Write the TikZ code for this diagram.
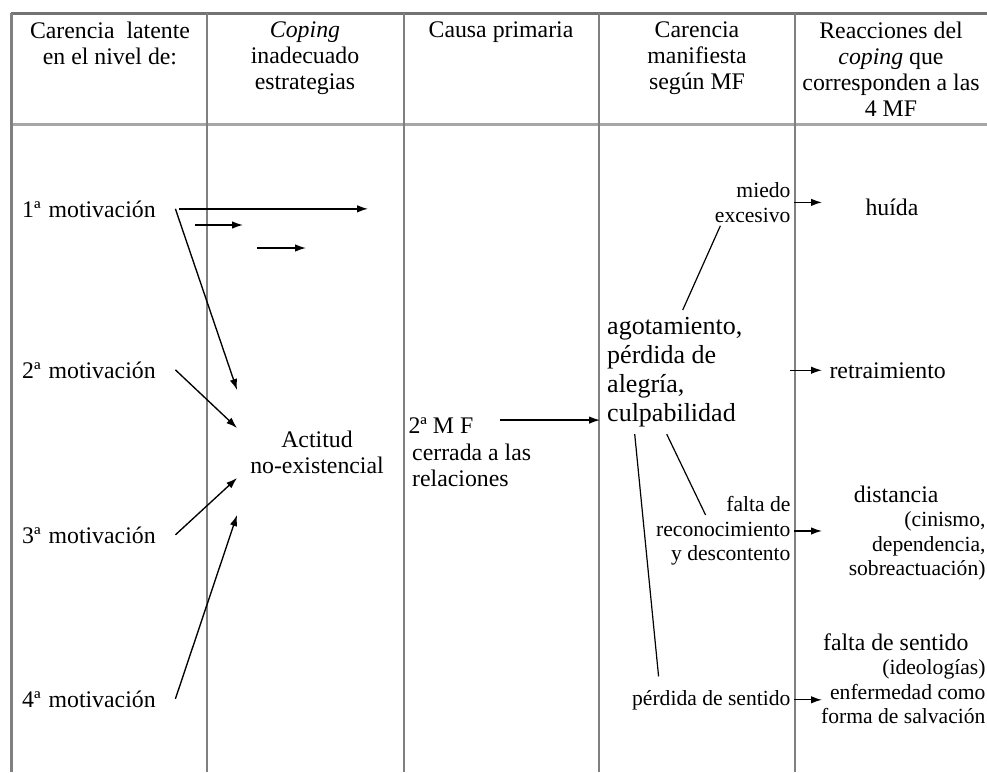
\documentclass[tikz,border=0pt]{standalone}
\usepackage{fontspec}
\setmainfont{Liberation Serif}
\usetikzlibrary{arrows.meta}
\newcommand{\normtxt}{\fontsize{23.8}{26}\selectfont}
\newcommand{\smalltxt}{\fontsize{21.6}{24.5}\selectfont}
\newcommand{\bigtxt}{\fontsize{26}{29}\selectfont}
\begin{document}
\begin{tikzpicture}[x=1pt,y=-1pt,
  rule/.style={black!50,line width=#1},
  arr/.style={-{Latex[length=11pt,width=7.5pt]},line width=1.35pt},
  link/.style={line width=1.2pt},
  head/.style={anchor=north,inner sep=0pt,align=center,font=\normtxt},
  mot/.style={anchor=base west,text width=146pt,align=left,inner xsep=7pt,font=\normtxt},
  lbl/.style={font=\normtxt},
  sublbl/.style={font=\smalltxt,align=right,anchor=north east}]
\useasboundingbox (0,0) rectangle (987,772);
% table
\draw[rule=3pt,black!55] (11,13) -- (987,13);
\draw[rule=3pt,black!35] (11,124) -- (987,124);
\foreach \x/\w in {11/3pt,207/1.5pt,404/2.5pt,599/1.5pt,795/2.5pt}
  \draw[rule=\w] (\x,13) -- (\x,772);
% header
\node[head] (h1) at (110,22) {Carencia\ \ latente\\en el nivel de:};
\node[head] (h2) at (305,22) {\textit{Coping}\\inadecuado\\estrategias};
\node[head] (h3) at (501,22) {Causa primaria};
\node[head] (h4) at (697,22) {Carencia\\manifiesta\\según MF};
\node[head] (h5) at (891,22) {Reacciones del\\\textit{coping} que\\corresponden a las\\4 MF};
% motivaciones
\node[mot] (m1) at (15,217) {1ª motivación};
\node[mot] (m2) at (15,378) {2ª motivación};
\node[mot] (m3) at (15,543) {3ª motivación};
\node[mot] (m4) at (15,707) {4ª motivación};
\node[lbl,align=center,inner xsep=13pt] (act) at (317,452) {Actitud\\no-existencial};
\foreach \m/\d in {m1/62,m2/24,m3/-26,m4/-63}
  \draw[arr] (\m.east) -- ([yshift=\d pt]act.west);
\coordinate (t1) at (368,0);
\coordinate (s1a) at (195,225);
\coordinate (s1b) at (243,225);
\coordinate (s2a) at (257,248);
\coordinate (s2b) at (306,248);
\draw[arr] ([xshift=4pt]m1.east) -- (m1.east -| t1);
\draw[arr] (s1a) -- (s1b);
\draw[arr] (s2a) -- (s2b);
% causa primaria
\node[lbl,anchor=base west] (mfa) at (405,433) {2ª M F};
\node[lbl,anchor=north west,align=left,inner sep=0pt] (mfb) at (412,444) {cerrada a las\\relaciones};
\node[font=\bigtxt,align=left,anchor=north west,inner sep=7pt] (agot) at (600,310)
  {agotamiento,\\pérdida de\\alegría,\\culpabilidad};
\draw[arr] ([shift={(23pt,5pt)}]mfa.east) -- ([yshift=5pt]mfa.east -| agot.west);
% carencia manifiesta
\node[sublbl] (miedo) at (794,179) {miedo\\excesivo};
\node[sublbl] (falta) at (794,493) {falta de\\reconocimiento\\y descontento};
\node[sublbl,anchor=base east] (perd) at (794,705) {pérdida de sentido};
\draw[link] ([xshift=9pt]miedo.south west) -- ([xshift=8pt]agot.north);
\draw[link] ([xshift=-8pt]agot.south) -- ([shift={(53pt,-22pt)}]falta.north west);
\draw[link] ([xshift=-40pt]agot.south) -- ([shift={(30pt,10pt)}]perd.north west);
% reacciones
\node[lbl,anchor=base] (huida) at (892,215) {huída};
\node[lbl,anchor=base west] (retr) at (826,378) {retraimiento};
\node[sublbl] (dist) at (989,482)
  {{\normtxt distancia}\hspace*{47pt}\\(cinismo,\\dependencia,\\sobreactuación)};
\node[sublbl] (enf) at (989,630)
  {{\normtxt falta de sentido}\hspace*{17pt}\\(ideologías)\\enfermedad como\\forma de salvación};
\coordinate (lx) at (790,0);
\coordinate (rx) at (822,0);
\draw[arr] (miedo.east) -- (miedo.east -| rx);
\draw[arr] (retr.west -| lx) -- (retr.west -| rx);
\draw[arr] (falta.east) -- (falta.east -| rx);
\draw[arr] (perd.east) -- (perd.east -| rx);
\end{tikzpicture}
\end{document}
